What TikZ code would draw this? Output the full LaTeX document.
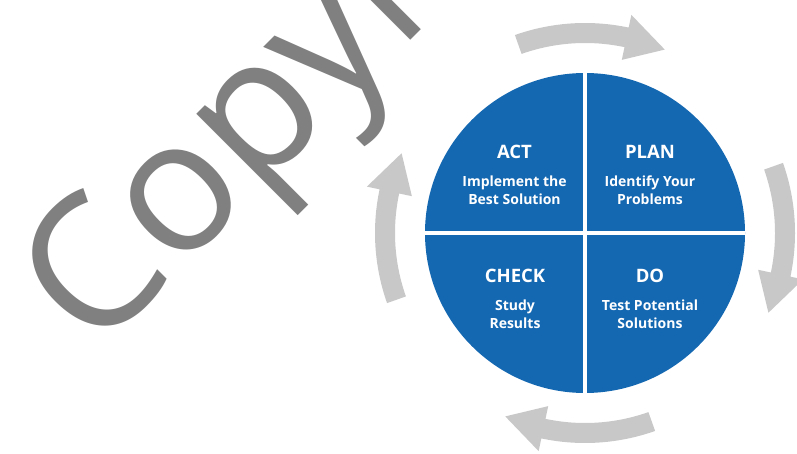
\documentclass[tikz,border=0pt]{standalone}
\usepackage{fontspec}
\setmainfont{Open Sans}
\usepackage{tikz}
\usetikzlibrary{positioning}
\definecolor{pdcablue}{RGB}{20,103,177}
\definecolor{arrowgray}{RGB}{200,200,200}
\definecolor{markgray}{RGB}{128,128,128}
\tikzset{
    wheelnode/.style={circle,fill=pdcablue,minimum size=320pt,inner sep=0pt},
    phasetitle/.style={text=white,inner sep=0pt,font=\bfseries\fontsize{18.5}{18.5}\selectfont},
    phasetext/.style={text=white,inner sep=0pt,align=center,font=\bfseries\fontsize{14}{18}\selectfont},
    divider/.style={draw=white,line width=3.5pt},
    cyclearrow/.style={fill=arrowgray},
    watermark/.style={text=markgray,inner sep=0pt,font=\fontsize{185}{185}\selectfont}
}
\begin{document}
\begin{tikzpicture}[x=1pt,y=1pt]
				\useasboundingbox (0,0) rectangle (797,453);
				\clip (0,0) rectangle (797,453);
				
				\node[watermark,rotate=45,anchor=base west] (copymark) at (94,96) {Copyr};
				
				\begin{scope}[shift={(585,220)}]
					\foreach \c in {88,-2,268,178}
					\fill[cyclearrow] ({\c+21.5}:210) arc[start angle={\c+21.5}, end angle={\c-10}, radius=210]
						-- ({\c-10}:223) -- ({\c-21.5}:200) -- ({\c-10}:177)
						-- ({\c-10}:190) arc[start angle={\c-10}, end angle={\c+21.5}, radius=190] -- cycle;
				\end{scope}
				
				\node[wheelnode] (wheel) at (585,220) {};
				\draw[divider] (wheel.north) -- (wheel.south);
				\draw[divider] (wheel.west) -- (wheel.east);
				
				\node[phasetitle] (act) at (514.5,301.5) {ACT};
				\node[phasetitle] (plan) at (650,301.5) {PLAN};
				\node[phasetitle] (check) at (515,177.5) {CHECK};
				\node[phasetitle] (do) at (650,177.5) {DO};
				
				\node[phasetext,below=17pt of act] (actdesc) {Implement the\\Best Solution};
				\node[phasetext,below=17pt of plan] (plandesc) {Identify Your\\Problems};
				\node[phasetext,below=17pt of check] (checkdesc) {Study\\Results};
				\node[phasetext,below=17pt of do] (dodesc) {Test Potential\\Solutions};
\end{tikzpicture}
\end{document}
